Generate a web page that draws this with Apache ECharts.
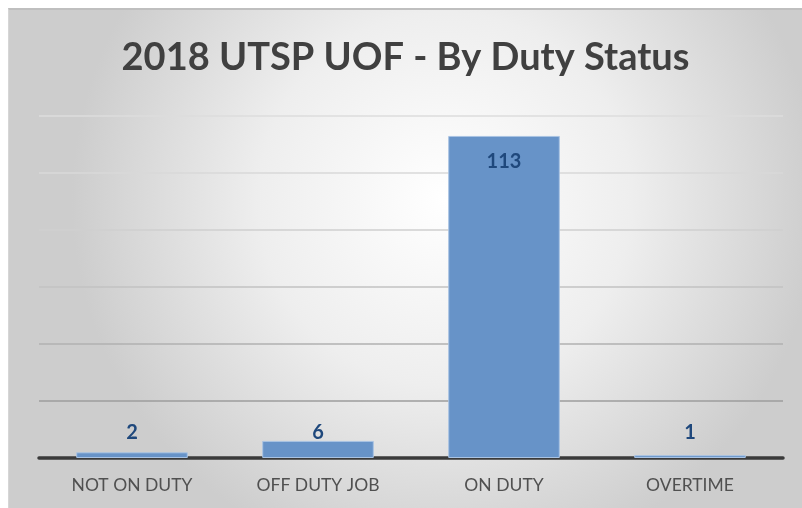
<!DOCTYPE html>
<html>
<head>
<meta charset="utf-8">
<script src="https://cdn.jsdelivr.net/npm/echarts@6/dist/echarts.min.js"></script>
<style>
  html, body { margin: 0; padding: 0; background: #fff; }
  #chart {
    position: absolute;
    left: 8px;
    top: 8px;
    width: 794px;
    height: 500px;
    box-sizing: border-box;
    border-top: 2px solid #bfbfbf;
    border-left: 1px solid #d6d6d6;
  }
</style>
</head>
<body>
<div id="chart"></div>
<script>
// 数据
const categories = ['NOT ON DUTY', 'OFF DUTY JOB', 'ON DUTY', 'OVERTIME']
const values = [2, 6, 113, 1]
const titleText = '2018 UTSP UOF - By Duty Status'

const chart = echarts.init(document.getElementById('chart'))

// 网格线颜色 从下到上逐渐变浅
const gridColors = ['#3f3f3f', '#9c9c9c', '#b0b0b0', '#c2c2c2', '#cfcfcf', '#d8d8d8', '#dcdcdc']

const seriesData = values.map((v) => {
  const big = v > 20
  return {
    value: v,
    label: big
      ? { position: 'insideTop', distance: 16 }
      : { position: 'insideBottom', distance: 15 },
  }
})

const options = {
  backgroundColor: new echarts.graphic.RadialGradient(0.55, 0.38, 0.75, [
    { offset: 0, color: '#ffffff' },
    { offset: 0.5, color: '#eeeeee' },
    { offset: 1, color: '#cdcdcd' },
  ]),
  title: {
    text: titleText,
    left: 'center',
    top: 24,
    textStyle: {
      fontFamily: 'Lato',
      fontWeight: 'bold',
      fontSize: 38,
      color: '#404040',
    },
  },
  grid: {
    left: 30,
    right: 19,
    top: 106,
    bottom: 50,
    containLabel: false,
  },
  xAxis: {
    type: 'category',
    data: categories,
    axisLine: {
      show: true,
      lineStyle: { color: '#3a3a3a', width: 3.5 },
    },
    axisTick: { show: false },
    axisLabel: {
      color: '#505050',
      fontFamily: 'Lato',
      fontSize: 17.5,
      margin: 18,
    },
  },
  yAxis: {
    type: 'value',
    min: 0,
    max: 120,
    interval: 20,
    axisLabel: { show: false },
    axisLine: { show: false },
    axisTick: { show: false },
    splitLine: {
      show: true,
      lineStyle: { color: gridColors, width: 1.5 },
    },
  },
  series: [
    {
      type: 'bar',
      data: seriesData,
      barWidth: '60%',
      itemStyle: {
        color: '#6793c8',
        borderColor: '#a9c3e3',
        borderWidth: 1,
      },
      label: {
        show: true,
        color: '#1f487c',
        fontFamily: 'Lato',
        fontWeight: 'bold',
        fontSize: 20,
      },
    },
  ],
}
options && chart.setOption(options)
</script>
</body>
</html>
